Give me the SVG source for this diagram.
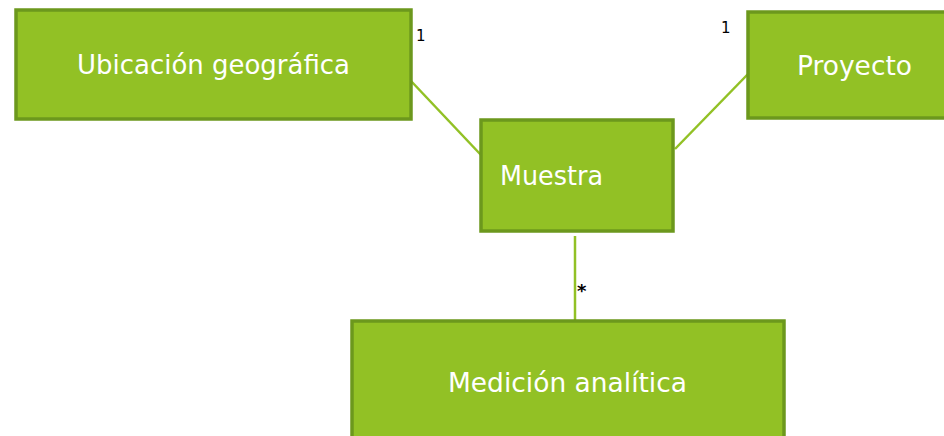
<svg xmlns="http://www.w3.org/2000/svg" width="944" height="436" viewBox="0 0 944 436">
<style>
.box{fill:#92c125;stroke:#6c981d;stroke-width:3.5}
.lbl{font-family:"DejaVu Sans",sans-serif;font-size:27px;fill:#ffffff}
.mult{font-family:"DejaVu Sans",sans-serif;font-size:15px;fill:#000000}
.conn{stroke:#92c125;stroke-width:2.5;fill:none}
</style>
<rect width="944" height="436" fill="#ffffff"/>
<g id="connectors">
<line class="conn" x1="411" y1="81" x2="481" y2="155"/>
<line class="conn" x1="748" y1="74" x2="675" y2="149"/>
<line class="conn" x1="575" y1="236" x2="575" y2="322"/>
<text class="mult" x="416" y="41">1</text>
<text class="mult" x="721" y="33">1</text>
<text class="mult" x="577" y="297" style="font-size:18px;font-weight:bold">*</text>
</g>
<g id="ubicacion">
<rect class="box" x="16" y="10" width="395" height="109"/>
<text class="lbl" x="213.5" y="74" text-anchor="middle" textLength="273" lengthAdjust="spacingAndGlyphs">Ubicación geográfica</text>
</g>
<g id="proyecto">
<rect class="box" x="748" y="12" width="210" height="106"/>
<text class="lbl" x="797" y="75" textLength="115" lengthAdjust="spacingAndGlyphs">Proyecto</text>
</g>
<g id="muestra">
<rect class="box" x="481" y="120" width="192" height="111"/>
<text class="lbl" x="500" y="185" textLength="103" lengthAdjust="spacingAndGlyphs">Muestra</text>
</g>
<g id="medicion">
<rect class="box" x="352" y="321" width="432" height="130"/>
<text class="lbl" x="448" y="392" textLength="239" lengthAdjust="spacingAndGlyphs">Medición analítica</text>
</g>
</svg>
